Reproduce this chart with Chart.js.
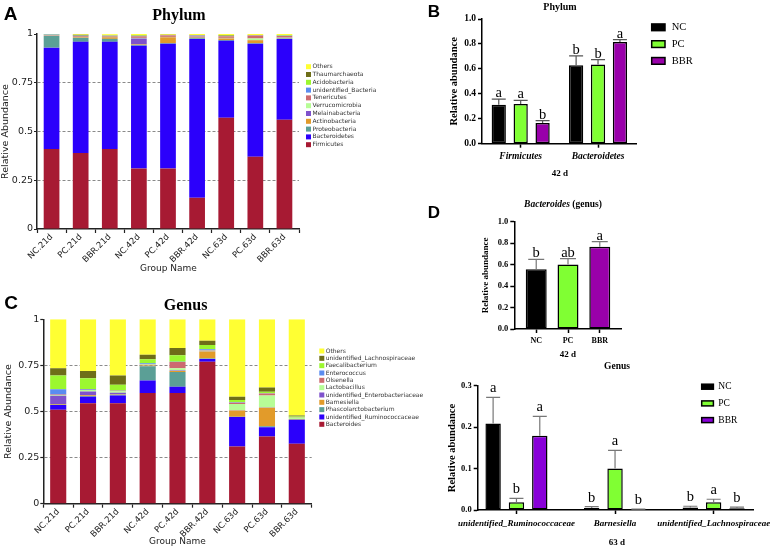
<!DOCTYPE html>
<html>
<head>
<meta charset="utf-8">
<script src="https://cdn.jsdelivr.net/npm/chart.js@4.4.1/dist/chart.umd.min.js"></script>
<style>
  body { margin: 0; background: #fff; }
  #fig { position: relative; width: 777px; height: 547px; overflow: hidden; background: #fff; }
  #fig canvas { position: absolute; }
</style>
</head>
<body>
<div id="fig">
  <canvas id="phylumStack" width="400" height="280" style="left:0px;top:0px"></canvas>
  <canvas id="genusStack" width="440" height="267" style="left:0px;top:280px"></canvas>
  <canvas id="phylumBar" width="377" height="185" style="left:400px;top:0px"></canvas>
  <canvas id="bactBar" width="377" height="172" style="left:400px;top:190px"></canvas>
  <canvas id="genusBar" width="377" height="187" style="left:400px;top:360px"></canvas>
</div>
<script>
// ---------- data ----------
const groupLabels = ['NC.21d', 'PC.21d', 'BBR.21d', 'NC.42d', 'PC.42d', 'BBR.42d', 'NC.63d', 'PC.63d', 'BBR.63d'];
const stackTicks = ['0', '0.25', '0.5', '0.75', '1'];

// phylum relative abundance, bottom of the stack first
const phylumNames = ['Firmicutes', 'Bacteroidetes', 'Proteobacteria', 'Actinobacteria', 'Melainabacteria',
  'Verrucomicrobia', 'Tenericutes', 'unidentified_Bacteria', 'Acidobacteria', 'Thaumarchaeota', 'Others'];
const firmicutes      = [0.41, 0.39, 0.41, 0.31, 0.31, 0.16, 0.57, 0.37, 0.56];
const bacteroidetes   = [0.52, 0.57, 0.55, 0.63, 0.64, 0.815, 0.395, 0.58, 0.415];
const proteobacteria  = [0.06, 0.02, 0.015, 0.004, 0.003, 0.004, 0.004, 0.003, 0.003];
const actinobacteria  = [0.001, 0.003, 0.008, 0.003, 0.03, 0.003, 0.008, 0.015, 0.002];
const melainabacteria = [0.001, 0.001, 0.002, 0.03, 0.001, 0.004, 0.001, 0.001, 0.001];
const verrucomicrobia = [0.001, 0.001, 0.001, 0.003, 0.001, 0.001, 0.002, 0.008, 0.001];
const tenericutes     = [0.002, 0.004, 0.004, 0.008, 0.008, 0.004, 0.008, 0.015, 0.008];
const unidBacteria    = [0.002, 0.002, 0.001, 0.002, 0.001, 0.002, 0.001, 0.001, 0.001];
const acidobacteria   = [0.001, 0.001, 0.001, 0.002, 0.001, 0.001, 0.002, 0.001, 0.003];
const thaumarchaeota  = [0.001, 0.004, 0.001, 0.002, 0.001, 0.001, 0.003, 0.001, 0.001];
const phylumOthers    = [0.001, 0.004, 0.006, 0.006, 0.004, 0.005, 0.006, 0.005, 0.005];

// genus relative abundance, bottom of the stack first
const genusNames = ['Bacteroides', 'unidentified_Ruminococcaceae', 'Phascolarctobacterium', 'Barnesiella',
  'unidentified_Enterobacteriaceae', 'Lactobacillus', 'Olsenella', 'Enterococcus', 'Faecalibacterium',
  'unidentified_Lachnospiraceae', 'Others'];
const bacteroides   = [0.51, 0.545, 0.545, 0.60, 0.60, 0.77, 0.31, 0.365, 0.325];
const unidRumino    = [0.025, 0.035, 0.042, 0.068, 0.034, 0.015, 0.16, 0.05, 0.13];
const phascolarcto  = [0.002, 0.004, 0.004, 0.078, 0.08, 0.002, 0.002, 0.005, 0.002];
const barnesiella   = [0.003, 0.004, 0.003, 0.003, 0.006, 0.038, 0.033, 0.10, 0.002];
const unidEnterobac = [0.045, 0.02, 0.008, 0.002, 0.003, 0.002, 0.002, 0.002, 0.001];
const lactobacillus = [0.005, 0.008, 0.008, 0.004, 0.012, 0.003, 0.033, 0.065, 0.006];
const olsenella     = [0.002, 0.002, 0.002, 0.002, 0.033, 0.002, 0.008, 0.01, 0.001];
const enterococcus  = [0.028, 0.004, 0.002, 0.004, 0.002, 0.006, 0.002, 0.002, 0.001];
const faecali       = [0.075, 0.058, 0.031, 0.022, 0.035, 0.022, 0.012, 0.008, 0.005];
const unidLachno    = [0.04, 0.04, 0.05, 0.025, 0.04, 0.024, 0.018, 0.023, 0.005];
const genusOthers   = [0.265, 0.28, 0.305, 0.192, 0.155, 0.116, 0.42, 0.37, 0.522];

const stackColors = ['#a71a33', '#2b00fb', '#5b9f96', '#e29b2a', '#7f52cc', '#b7fd96',
  '#cc6b70', '#5a8cf0', '#9cf72f', '#6e6e18', '#ffff33'];

// B: phylum, 42 d
const phylumBarLabels = ['Firmicutes', 'Bacteroidetes'];
const phylumNC  = [0.313, 0.630];
const phylumPC  = [0.318, 0.635];
const phylumBBR = [0.165, 0.815];
const phylumNCErr  = [0.045, 0.075];
const phylumPCErr  = [0.03, 0.04];
const phylumBBRErr = [0.02, 0.02];
const phylumNCSig  = ['a', 'b'];
const phylumPCSig  = ['a', 'b'];
const phylumBBRSig = ['b', 'a'];

// D: Bacteroides (genus), 42 d
const bactLabels = ['NC', 'PC', 'BBR'];
const bactValues = [0.558, 0.600, 0.767];
const bactErr    = [0.09, 0.055, 0.047];
const bactSig    = ['b', 'ab', 'a'];

// E: genus, 63 d
const genus63Labels = ['unidentified_Ruminococcaceae', 'Barnesiella', 'unidentified_Lachnospiraceae'];
const genus63NC  = [0.209, 0.005, 0.006];
const genus63PC  = [0.019, 0.100, 0.019];
const genus63BBR = [0.179, 0.001, 0.004];
const genus63NCErr  = [0.063, 0.003, 0.003];
const genus63PCErr  = [0.009, 0.044, 0.007];
const genus63BBRErr = [0.047, 0.001, 0.003];
const genus63NCSig  = ['a', 'b', 'b'];
const genus63PCSig  = ['b', 'a', 'a'];
const genus63BBRSig = ['a', 'b', 'b'];

const SERIF = '"Liberation Serif"';
const SANS = '"DejaVu Sans"';

// ---------- helpers ----------
function put(ctx, s) {
  ctx.save();
  ctx.fillStyle = s.color || '#000';
  ctx.textBaseline = 'middle';
  ctx.textAlign = 'left';
  ctx.translate(s.x, s.y);
  if (s.rot) ctx.rotate(s.rot);
  const parts = s.parts || [{ t: s.t, font: s.font }];
  let w = 0;
  parts.forEach(p => { ctx.font = p.font; w += ctx.measureText(p.t).width; });
  let x = s.align === 'left' ? 0 : -w / 2;
  parts.forEach(p => { ctx.font = p.font; ctx.fillText(p.t, x, 0); x += ctx.measureText(p.t).width; });
  ctx.restore();
}

// plugin: free text + legend + error bars / letters
const decor = {
  id: 'decor',
  afterDatasetsDraw(chart, args, o) {
    const ctx = chart.ctx;
    if (o.errors) {
      const ys = chart.scales.y;
      chart.data.datasets.forEach((ds, i) => {
        chart.getDatasetMeta(i).data.forEach((bar, j) => {
          const raw = ds.data[j];
          const v = typeof raw === 'object' ? raw.y : raw;
          const top = ys.getPixelForValue(v + ds.errors[j]);
          ctx.save();
          ctx.strokeStyle = o.errColor;
          ctx.lineWidth = 1.2;
          ctx.beginPath();
          ctx.moveTo(bar.x, bar.y);
          ctx.lineTo(bar.x, top);
          ctx.moveTo(bar.x - o.cap, top);
          ctx.lineTo(bar.x + o.cap, top);
          ctx.stroke();
          ctx.font = '14.5px ' + SERIF;
          ctx.fillStyle = '#000';
          ctx.textAlign = 'center';
          ctx.textBaseline = 'alphabetic';
          ctx.fillText(ds.letters[j], bar.x, top - o.gap);
          ctx.restore();
        });
      });
    }
  },
  afterDraw(chart, args, o) {
    const ctx = chart.ctx;
    (o.texts || []).forEach(s => put(ctx, s));
    const lg = o.legend;
    if (lg) {
      const sets = chart.data.datasets.slice();
      if (lg.reverse) sets.reverse();
      sets.forEach((ds, k) => {
        const cy = lg.y + k * lg.dy;
        ctx.save();
        ctx.fillStyle = ds.backgroundColor;
        ctx.fillRect(lg.x, cy - lg.h / 2, lg.w, lg.h);
        if (lg.stroke) {
          ctx.strokeStyle = '#000';
          ctx.lineWidth = 1.5;
          ctx.strokeRect(lg.x, cy - lg.h / 2, lg.w, lg.h);
        }
        ctx.restore();
        put(ctx, { t: ds.label, x: lg.tx, y: cy, font: lg.font, align: 'left', color: lg.color });
      });
    }
  }
};

function stackChart(id, names, series, area, texts, legend) {
  const canvas = document.getElementById(id);
  const W = canvas.width, H = canvas.height;
  return new Chart(canvas, {
    type: 'bar',
    data: {
      labels: groupLabels,
      datasets: names.map((n, i) => ({
        label: n, data: series[i], backgroundColor: stackColors[i],
        barPercentage: 0.54, categoryPercentage: 1
      }))
    },
    options: {
      responsive: false, animation: false, devicePixelRatio: 1,
      layout: { padding: { left: 0, top: area.top, right: W - area.right, bottom: 0 } },
      plugins: { legend: { display: false }, tooltip: { enabled: false }, decor: { texts, legend } },
      scales: {
        x: {
          stacked: true,
          grid: { offset: true, drawOnChartArea: false, tickLength: 4, tickColor: '#222', tickWidth: 1.2 },
          border: { color: '#222', width: 1.5 },
          ticks: { autoSkip: false, minRotation: 45, maxRotation: 45, padding: -1, color: '#222',
                   font: { family: SANS, size: 8.5 } },
          afterFit: s => { s.height = H - area.bottom; }
        },
        y: {
          stacked: true, min: 0, max: 1,
          ticks: { stepSize: 0.25, padding: 1, color: '#222', font: { family: SANS, size: 9.5 },
                   callback: (v, i) => stackTicks[i] },
          grid: {
            color: c => (c.tick && c.tick.value > 0 && c.tick.value < 1) ? '#8a8a8a' : 'rgba(0,0,0,0)',
            tickColor: '#222', tickLength: 3, tickWidth: 1.2
          },
          border: { color: '#222', width: 1.5, dash: [3, 2] },
          afterFit: s => { s.width = area.left; }
        }
      }
    },
    plugins: [decor]
  });
}

// ---------- A: phylum stack ----------
stackChart('phylumStack', phylumNames,
  [firmicutes, bacteroidetes, proteobacteria, actinobacteria, melainabacteria, verrucomicrobia,
   tenericutes, unidBacteria, acidobacteria, thaumarchaeota, phylumOthers],
  { left: 37, right: 299, top: 34, bottom: 229 },
  [
    { t: 'A', x: 10.5, y: 15, font: 'bold 19px "Liberation Sans"' },
    { t: 'Phylum', x: 179, y: 15.5, font: 'bold 16px ' + SERIF },
    { t: 'Relative Abundance', x: 6, y: 131.5, rot: -Math.PI / 2, font: '9.5px ' + SANS, color: '#222' },
    { t: 'Group Name', x: 168.5, y: 269, font: '9px ' + SANS, color: '#222' }
  ],
  { reverse: true, x: 306, y: 66.7, dy: 7.8, w: 5, h: 5, tx: 312.5, font: '6px ' + SANS, color: '#333' });

// ---------- C: genus stack ----------
stackChart('genusStack', genusNames,
  [bacteroides, unidRumino, phascolarcto, barnesiella, unidEnterobac, lactobacillus, olsenella,
   enterococcus, faecali, unidLachno, genusOthers],
  { left: 43.3, right: 311.7, top: 39.3, bottom: 223.7 },
  [
    { t: 'C', x: 11, y: 24, font: 'bold 19px "Liberation Sans"' },
    { t: 'Genus', x: 185.6, y: 25.5, font: 'bold 16px ' + SERIF },
    { t: 'Relative Abundance', x: 9, y: 131.5, rot: -Math.PI / 2, font: '9.5px ' + SANS, color: '#222' },
    { t: 'Group Name', x: 177.5, y: 262, font: '9px ' + SANS, color: '#222' }
  ],
  { reverse: true, x: 319.3, y: 71, dy: 7.33, w: 5, h: 5, tx: 325.7, font: '6px ' + SANS, color: '#333' });

// ---------- shared axis styles for the GraphPad panels ----------
function gpY(max, step, fontSize, left) {
  return {
    min: 0, max: max,
    ticks: { stepSize: step, padding: 2, color: '#000', font: { family: SERIF, size: fontSize, weight: 'bold' },
             callback: v => v.toFixed(1) },
    grid: { drawOnChartArea: false, tickLength: 4, tickColor: '#000', tickWidth: 1.5 },
    border: { color: '#000', width: 1.5 },
    afterFit: s => { s.width = left; }
  };
}

// ---------- B: phylum bars ----------
(function () {
  const canvas = document.getElementById('phylumBar');
  const W = canvas.width, H = canvas.height;
  const area = { left: 82, right: 236.7, top: 19, bottom: 143.7 };
  const base = { borderColor: '#000', borderWidth: 1.5, borderSkipped: false,
                 categoryPercentage: 0.85, barPercentage: 0.65 };
  new Chart(canvas, {
    type: 'bar',
    data: {
      labels: phylumBarLabels,
      datasets: [
        Object.assign({ label: 'NC', data: phylumNC, errors: phylumNCErr, letters: phylumNCSig, backgroundColor: '#000000' }, base),
        Object.assign({ label: 'PC', data: phylumPC, errors: phylumPCErr, letters: phylumPCSig, backgroundColor: '#80ff33' }, base),
        Object.assign({ label: 'BBR', data: phylumBBR, errors: phylumBBRErr, letters: phylumBBRSig, backgroundColor: '#9900aa' }, base)
      ]
    },
    options: {
      responsive: false, animation: false, devicePixelRatio: 1,
      layout: { padding: { left: 0, top: area.top, right: W - area.right, bottom: 0 } },
      plugins: {
        legend: { display: false }, tooltip: { enabled: false },
        decor: {
          errors: true, errColor: '#555', cap: 7, gap: 2,
          texts: [
            { t: 'B', x: 34, y: 12.5, font: 'bold 17px "Liberation Sans"' },
            { t: 'Phylum', x: 160, y: 7, font: 'bold 10px ' + SERIF },
            { t: 'Relative abundance', x: 54, y: 81.4, rot: -Math.PI / 2, font: 'bold 10.5px ' + SERIF },
            { t: '42 d', x: 160, y: 174, font: 'bold 9px ' + SERIF }
          ],
          legend: { x: 251.7, y: 27.3, dy: 16.8, w: 13.3, h: 6.7, stroke: true, tx: 271.7,
                    font: '10.5px ' + SERIF, color: '#000' }
        }
      },
      scales: {
        x: {
          grid: { offset: false, drawOnChartArea: false, tickLength: 4, tickColor: '#000', tickWidth: 1.5 },
          border: { color: '#000', width: 1.5 },
          ticks: { padding: 3, color: '#000', font: { family: SERIF, size: 9.5, style: 'italic', weight: 'bold' } },
          afterFit: s => { s.height = H - area.bottom; }
        },
        y: gpY(1, 0.2, 9.5, area.left)
      }
    },
    plugins: [decor]
  });
})();

// ---------- D: Bacteroides bars ----------
(function () {
  const canvas = document.getElementById('bactBar');
  const W = canvas.width, H = canvas.height;
  const area = { left: 114.3, right: 221.7, top: 31.7, bottom: 139 };
  new Chart(canvas, {
    type: 'bar',
    data: {
      datasets: [{
        label: 'Bacteroides',
        data: bactValues.map((v, i) => ({ x: i, y: v })),
        errors: bactErr, letters: bactSig,
        backgroundColor: ['#000000', '#80ff33', '#9900aa'],
        borderColor: '#000', borderWidth: 1.5, borderSkipped: false,
        categoryPercentage: 1, barPercentage: 0.66
      }]
    },
    options: {
      responsive: false, animation: false, devicePixelRatio: 1,
      layout: { padding: { left: 0, top: area.top, right: W - area.right, bottom: 0 } },
      plugins: {
        legend: { display: false }, tooltip: { enabled: false },
        decor: {
          errors: true, errColor: '#777', cap: 8, gap: 2,
          texts: [
            { t: 'D', x: 34, y: 23, font: 'bold 17px "Liberation Sans"' },
            { parts: [{ t: 'Bacteroides', font: 'italic bold 9.5px ' + SERIF }, { t: ' (genus)', font: 'bold 9.5px ' + SERIF }],
              x: 163, y: 15 },
            { t: 'Relative abundance', x: 86, y: 85.4, rot: -Math.PI / 2, font: 'bold 9px ' + SERIF },
            { t: '42 d', x: 168, y: 165, font: 'bold 9px ' + SERIF }
          ]
        }
      },
      scales: {
        x: {
          type: 'linear', min: -0.69, max: 2.69, offset: false,
          grid: { offset: false, drawOnChartArea: false, tickLength: 4, tickColor: '#000', tickWidth: 1.5 },
          border: { color: '#000', width: 1.5 },
          ticks: { stepSize: 1, includeBounds: false, autoSkip: false, padding: 3, color: '#000',
                   font: { family: SERIF, size: 8, weight: 'bold' }, callback: v => bactLabels[v] },
          afterFit: s => { s.height = H - area.bottom; }
        },
        y: gpY(1, 0.2, 8.5, area.left)
      }
    },
    plugins: [decor]
  });
})();

// ---------- E: genus bars, 63 d ----------
(function () {
  const canvas = document.getElementById('genusBar');
  const W = canvas.width, H = canvas.height;
  const area = { left: 77.7, right: 357, top: 25.7, bottom: 150 };
  const base = { borderColor: '#000', borderWidth: 1.5, borderSkipped: false,
                 categoryPercentage: 0.71, barPercentage: 0.66 };
  const pts = arr => arr.map((v, i) => ({ x: i, y: v }));
  new Chart(canvas, {
    type: 'bar',
    data: {
      datasets: [
        Object.assign({ label: 'NC', data: pts(genus63NC), errors: genus63NCErr, letters: genus63NCSig, backgroundColor: '#000000' }, base),
        Object.assign({ label: 'PC', data: pts(genus63PC), errors: genus63PCErr, letters: genus63PCSig, backgroundColor: '#80ff33' }, base),
        Object.assign({ label: 'BBR', data: pts(genus63BBR), errors: genus63BBRErr, letters: genus63BBRSig, backgroundColor: '#8800d8' }, base)
      ]
    },
    options: {
      responsive: false, animation: false, devicePixelRatio: 1,
      layout: { padding: { left: 0, top: area.top, right: W - area.right, bottom: 0 } },
      plugins: {
        legend: { display: false }, tooltip: { enabled: false },
        decor: {
          errors: true, errColor: '#777', cap: 7, gap: 5,
          texts: [
            { t: 'Genus', x: 217, y: 7, font: 'bold 9.5px ' + SERIF },
            { t: 'Relative abundance', x: 52, y: 88, rot: -Math.PI / 2, font: 'bold 10.5px ' + SERIF },
            { t: '63 d', x: 217, y: 183, font: 'bold 9px ' + SERIF }
          ],
          legend: { x: 301.7, y: 26.7, dy: 16.7, w: 11.7, h: 5, stroke: true, tx: 318.3,
                    font: '9.5px ' + SERIF, color: '#000' }
        }
      },
      scales: {
        x: {
          type: 'linear', min: -0.393, max: 2.4, offset: false,
          grid: { offset: false, drawOnChartArea: false, tickLength: 4, tickColor: '#000', tickWidth: 1.5 },
          border: { color: '#000', width: 1.5 },
          ticks: { stepSize: 1, includeBounds: false, autoSkip: false, padding: 4, color: '#000',
                   font: { family: SERIF, size: 9, style: 'italic', weight: 'bold' }, callback: v => genus63Labels[v] },
          afterFit: s => { s.height = H - area.bottom; }
        },
        y: gpY(0.3, 0.1, 8.5, area.left)
      }
    },
    plugins: [decor]
  });
})();
</script>
</body>
</html>
